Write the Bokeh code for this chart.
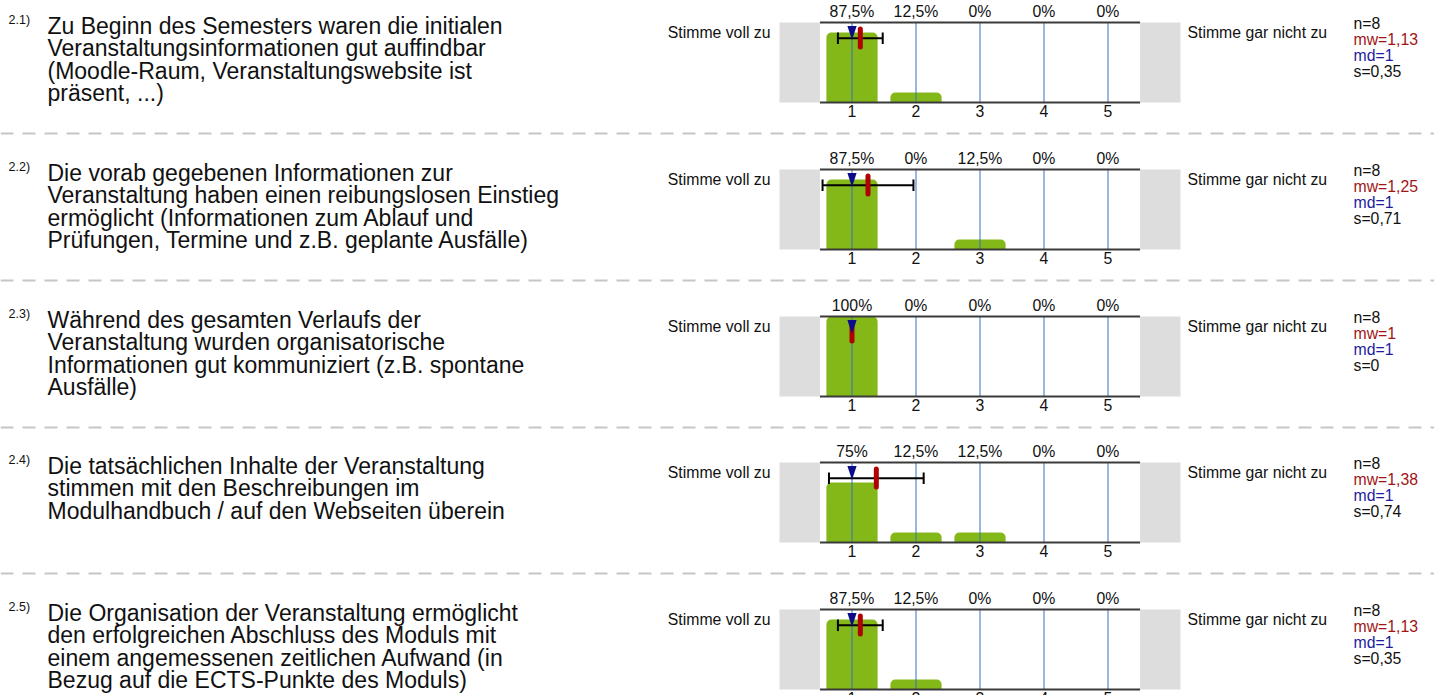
from bokeh.plotting import figure
from bokeh.layouts import column
from bokeh.models import Range1d, Span
from bokeh.core.properties import value
from bokeh.embed import file_html
from bokeh.resources import INLINE

# ---------------- data ----------------
scale_values = [1, 2, 3, 4, 5]
scale_labels = ["1", "2", "3", "4", "5"]
left_anchor = "Stimme voll zu"
right_anchor = "Stimme gar nicht zu"

item_ids = ["2.1)", "2.2)", "2.3)", "2.4)", "2.5)"]
questions = [
    ["Zu Beginn des Semesters waren die initialen",
     "Veranstaltungsinformationen gut auffindbar",
     "(Moodle-Raum, Veranstaltungswebsite ist",
     "präsent, ...)"],
    ["Die vorab gegebenen Informationen zur",
     "Veranstaltung haben einen reibungslosen Einstieg",
     "ermöglicht (Informationen zum Ablauf und",
     "Prüfungen, Termine und z.B. geplante Ausfälle)"],
    ["Während des gesamten Verlaufs der",
     "Veranstaltung wurden organisatorische",
     "Informationen gut kommuniziert (z.B. spontane",
     "Ausfälle)"],
    ["Die tatsächlichen Inhalte der Veranstaltung",
     "stimmen mit den Beschreibungen im",
     "Modulhandbuch / auf den Webseiten überein"],
    ["Die Organisation der Veranstaltung ermöglicht",
     "den erfolgreichen Abschluss des Moduls mit",
     "einem angemessenen zeitlichen Aufwand (in",
     "Bezug auf die ECTS-Punkte des Moduls)"],
]

pct_21 = [87.5, 12.5, 0, 0, 0]
pct_22 = [87.5, 0, 12.5, 0, 0]
pct_23 = [100, 0, 0, 0, 0]
pct_24 = [75, 12.5, 12.5, 0, 0]
pct_25 = [87.5, 12.5, 0, 0, 0]
percentages = [pct_21, pct_22, pct_23, pct_24, pct_25]

n_values = [8, 8, 8, 8, 8]
mw_values = [1.13, 1.25, 1.0, 1.38, 1.13]
md_values = [1, 1, 1, 1, 1]
s_values = [0.35, 0.71, 0.0, 0.74, 0.35]

# ---------------- style ----------------
FONT = "Liberation Sans"
GREEN = "#84b819"
BLUE_LINE = "#3473bf"
GREY_BOX = "#dddddd"
AXIS_COLOR = "#3a3a3a"
MEAN_COLOR = "#b00000"
MEDIAN_COLOR = "#0c0c8a"
MW_TEXT = "#a01515"
MD_TEXT = "#1c1ca0"
TXT = "#111111"

PAGE_W = 1434
row_heights = [147, 147, 146, 147, 108]
SMALL = 15.8
BIG = 23
SUP = 12.5


def de(v):
    s = f"{v:.2f}".rstrip("0").rstrip(".")
    return s.replace(".", ",")


def pct_label(p):
    return f"{p:g}".replace(".", ",") + "%"


def xd(page_x):
    # page pixel -> scale units (value 1 sits at page x 851.5, 64 px per step)
    return 1 + (page_x - 851.5) / 64.0


def yd(cy):
    # canvas pixel within a row -> percent units (100% at y=22, 0% at y=102)
    return 100 - (cy - 22) * 1.25


def yt(baseline, size):
    # text anchor for a wanted baseline (empirical offset of the svg text)
    return yd(baseline - 0.38 * size)


figs = []
for i in range(5):
    h = row_heights[i]
    p = figure(width=PAGE_W, height=h,
               x_range=Range1d(xd(0), xd(PAGE_W)),
               y_range=Range1d(yd(h), yd(0)),
               x_axis_type=None, y_axis_type=None,
               toolbar_location=None, output_backend="svg",
               min_border=0, outline_line_color=None)
    p.grid.visible = False
    p.background_fill_color = "white"
    p.border_fill_color = "white"

    pct = percentages[i]
    mw = mw_values[i]
    md = md_values[i]
    s = s_values[i]

    # grey end boxes
    p.quad(left=[xd(779), 5.5], right=[0.5, xd(1180)], bottom=[0, 0], top=[100, 100],
           fill_color=GREY_BOX, line_color=None)

    # bars
    bx = [x for x, v in zip(scale_values, pct) if v > 0]
    bt = [v for v in pct if v > 0]
    p.vbar(x=bx, top=bt, bottom=0, width=0.8, fill_color=GREEN, line_color=None,
           border_radius=(5, 5, 0, 0))

    # blue vertical lines
    p.segment(x0=scale_values, x1=scale_values, y0=[0] * 5, y1=[100] * 5,
              line_color=BLUE_LINE, line_width=1)

    # top / bottom lines
    p.segment(x0=[0.5, 0.5], x1=[5.5, 5.5], y0=[100, 0], y1=[100, 0],
              line_color=AXIS_COLOR, line_width=2)

    # std-dev error bar
    if s > 0:
        ey = yd(37.7)
        p.segment(x0=[mw - s], x1=[mw + s], y0=[ey], y1=[ey], line_color="black", line_width=2)
        p.segment(x0=[mw - s, mw + s], x1=[mw - s, mw + s], y0=[yd(32)] * 2, y1=[yd(43.5)] * 2,
                  line_color="black", line_width=2)

    # mean marker
    p.segment(x0=[mw], x1=[mw], y0=[yd(28.5)], y1=[yd(46.5)], line_color=MEAN_COLOR,
              line_width=5, line_cap="round")

    # median marker
    p.patch(x=[md - 0.072, md + 0.072, md], y=[yd(25.5), yd(25.5), yd(39.5)],
            fill_color=MEDIAN_COLOR, line_color=None)

    # percentage labels and scale labels
    p.text(x=scale_values, y=[yt(17.3, SMALL)] * 5, text=[pct_label(v) for v in pct],
           text_font=value(FONT), text_font_size=f"{SMALL}px", text_align="center",
           text_baseline="alphabetic", text_color=TXT)
    p.text(x=scale_values, y=[yt(117, SMALL)] * 5, text=scale_labels,
           text_font=value(FONT), text_font_size=f"{SMALL}px", text_align="center",
           text_baseline="alphabetic", text_color=TXT)

    # anchors
    p.text(x=[xd(770)], y=[yt(38, SMALL)], text=[left_anchor], text_font=value(FONT),
           text_font_size=f"{SMALL}px", text_align="right", text_baseline="alphabetic",
           text_color=TXT)
    p.text(x=[xd(1187)], y=[yt(38, SMALL)], text=[right_anchor], text_font=value(FONT),
           text_font_size=f"{SMALL}px", text_align="left", text_baseline="alphabetic",
           text_color=TXT)

    # statistics
    stats = [f"n={n_values[i]}", f"mw={de(mw)}", f"md={de(md)}", f"s={de(s)}"]
    colors = [TXT, MW_TEXT, MD_TEXT, TXT]
    p.text(x=[xd(1353)] * 4, y=[yt(29.3 + 16 * k, SMALL) for k in range(4)], text=stats,
           text_color=colors, text_font=value(FONT), text_font_size=f"{SMALL}px",
           text_align="left", text_baseline="alphabetic")

    # item id + question
    p.text(x=[xd(8)], y=[yt(24, SUP)], text=[item_ids[i]], text_font=value(FONT),
           text_font_size=f"{SUP}px", text_align="left", text_baseline="alphabetic",
           text_color=TXT)
    q = questions[i]
    p.text(x=[xd(47)] * len(q), y=[yt(34 + 22.5 * k, BIG) for k in range(len(q))], text=q,
           text_font=value(FONT), text_font_size=f"{BIG}px", text_align="left",
           text_baseline="alphabetic", text_color=TXT)

    # separator
    if i < 4:
        p.add_layout(Span(location=yd(133), dimension="width", line_color="#c6c6c6",
                          line_width=2, line_dash="13 9"))

    figs.append(p)

layout = column(*figs, spacing=0)
open("out.html", "w").write(file_html(layout, INLINE, "Chart"))
